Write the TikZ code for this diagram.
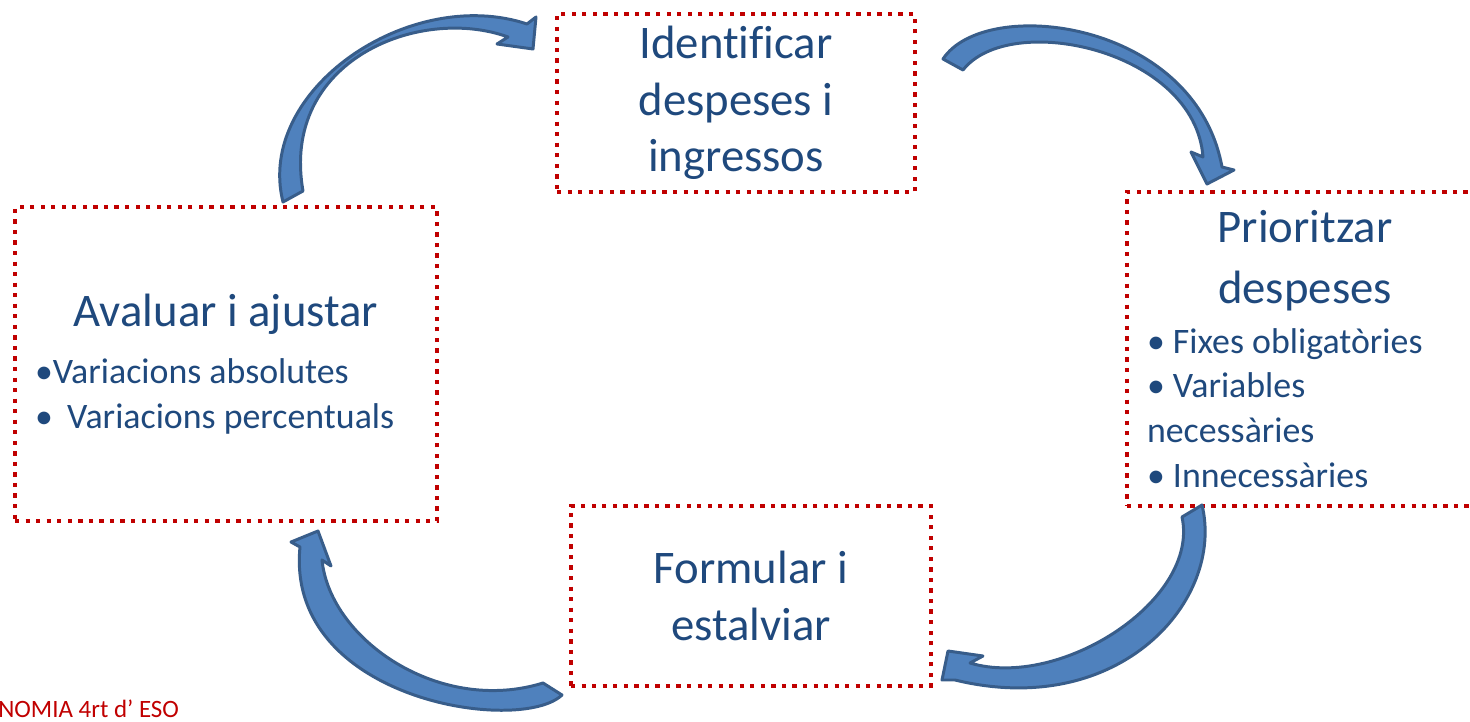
\documentclass[tikz,border=0pt]{standalone}
\usepackage{fontspec}
\setmainfont{Carlito}[Ligatures=NoCommon]
\usepackage{xcolor}
\definecolor{TextBlue}{RGB}{31,73,125}
\definecolor{BoxRed}{RGB}{192,0,0}
\definecolor{ArrowFill}{RGB}{79,129,189}
\definecolor{ArrowBorder}{RGB}{56,93,138}
\usepackage{tikz}
\tikzset{
  % Dotted box of one step
  stepbox/.style={
    rectangle,
    draw=BoxRed,
    line width=2.4pt,
    dash pattern=on 2.4pt off 3.6pt,
    text=TextBlue,
    inner xsep=0.4cm,
    inner ysep=0pt,
    font=\fontsize{26.6pt}{32.3pt}\selectfont
  },
  % Curved block arrow
  blockarrow/.style={
    fill=ArrowFill,
    draw=ArrowBorder,
    line width=1.7pt,
    line join=round
  },
  % Footer text
  footer/.style={
    text=BoxRed,
    inner sep=0pt,
    anchor=base west,
    font=\fontsize{14.2pt}{17pt}\selectfont
  }
}
\newcommand{\bulletsize}{\fontsize{20.4pt}{25.5pt}\selectfont}

\begin{document}
\begin{tikzpicture}[x=0.02cm,y=-0.02cm]
  \useasboundingbox (0,0) rectangle (1470,722);
  \clip (0,0) rectangle (1470,722);

  % Steps
  \node[stepbox, align=center, minimum width=7.16cm, minimum height=3.56cm]
    (ident) at (736,103) {Identificar\\despeses i\\ingressos};
  \node[stepbox, align=left, text width=6.32cm, minimum width=7.12cm, minimum height=6.28cm]
    (prior) at (1305,349) {\vspace*{2.3pt}\spaceskip=0pt{\centering Prioritzar\\despeses\par}\vspace{3pt}%
    \bulletsize • Fixes obligatòries\\• Variables\\necessàries\\• Innecessàries\par};
  \node[stepbox, align=center, minimum width=7.2cm, minimum height=3.6cm]
    (formul) at (751,596) {Formular i\\estalviar};
  \node[stepbox, align=left, text width=7.64cm, minimum width=8.44cm, minimum height=6.28cm]
    (aval) at (226,364) {\vspace*{5.7pt}\spaceskip=0pt{\centering Avaluar i ajustar\par}\vspace{1.5pt}%
    \bulletsize •Variacions absolutes\\•\hspace{0.4em}Variacions percentuals\par};

  % Arrows round the cycle
  \draw[blockarrow] (283,202) .. controls (255,90) and (410,-15) .. (527,24)
    -- (536,17) -- (533,49) -- (497,44) -- (508,37)
    .. controls (420,5) and (280,60) .. (303,191) -- cycle;
  \draw[blockarrow] (943,59) .. controls (985,-5) and (1195,20) .. (1222,167)
    -- (1234,170) -- (1207,184) -- (1191,152) -- (1203,157)
    .. controls (1195,50) and (1010,10) .. (963,70) -- cycle;
  \draw[blockarrow] (1202,505) .. controls (1225,600) and (1120,720) .. (955,680)
    -- (942,680) -- (948,651) -- (983,656) -- (970,663)
    .. controls (1060,690) and (1200,600) .. (1182,517) -- cycle;
  \draw[blockarrow] (562,695) .. controls (520,735) and (285,700) .. (300,547)
    -- (291,542) -- (318,531) -- (331,566) -- (322,560)
    .. controls (330,640) and (440,715) .. (543,683) -- cycle;

  \node[footer] (foot) at (-2,717) {NOMIA 4rt d’ ESO};
\end{tikzpicture}
\end{document}
